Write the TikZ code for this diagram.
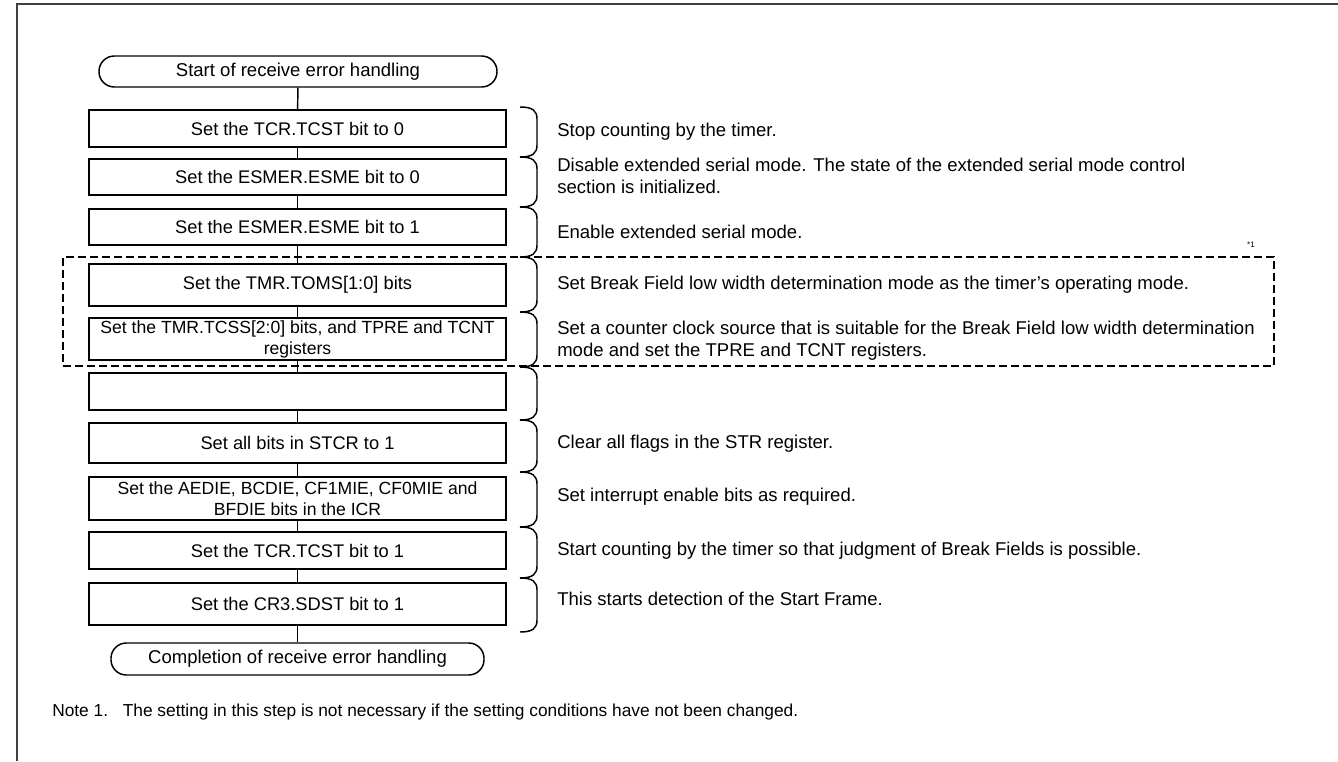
\documentclass[tikz,border=0pt]{standalone}
\usepackage{fontspec}
\setmainfont{Liberation Sans}
\begin{document}
\begin{tikzpicture}[x=0.75pt,y=-0.75pt,
  frame/.style={draw=black!75, line width=1.5pt},
  box/.style={draw, line width=1.1pt, minimum width=312.75pt, inner sep=0pt, align=center, font=\fontsize{13.7}{15.75}\selectfont},
  box2/.style={box, font=\fontsize{13.2}{15.75}\selectfont},
  term/.style={draw, line width=1.1pt, rounded corners=11.5pt, inner sep=0pt, font=\fontsize{13.9}{16}\selectfont},
  conn/.style={line width=1.1pt},
  brc/.style={line width=1.1pt},
  desc/.style={anchor=west, align=left, inner sep=0pt, font=\fontsize{13.9}{16.5}\selectfont},
  dashbox/.style={draw, line width=1.4pt, dash pattern=on 6pt off 3pt, inner sep=0pt}]
\useasboundingbox (0,0) rectangle (1338,761);
\draw[frame] (17,761) -- (17,4) -- (1338,4);

% flow nodes
\node[term, minimum width=298.5pt, minimum height=23.25pt] (s) at (298,71.5) {Start of receive error handling};
\node[box, minimum height=27.75pt] (b1) at (297.5,128.5) {Set the TCR.TCST bit to 0};
\node[box, minimum height=27pt] (b2) at (297.5,177) {Set the ESMER.ESME bit to 0};
\node[box, minimum height=27pt] (b3) at (297.5,227) {Set the ESMER.ESME bit to 1};
\node[box, minimum height=31.5pt] (b4) at (297.5,285) {Set the TMR.TOMS[1:0] bits};
\node[box2, minimum height=31.5pt] (b5) at (297.5,339) {Set the TMR.TCSS[2:0] bits, and TPRE and TCNT\\registers};
\node[box, minimum height=27.75pt] (b6) at (297.5,391.5) {};
\node[box, minimum height=30pt] (b7) at (297.5,443) {Set all bits in STCR to 1};
\node[box2, minimum height=32.25pt] (b8) at (297.5,498.5) {Set the AEDIE, BCDIE, CF1MIE, CF0MIE and\\BFDIE bits in the ICR};
\node[box, minimum height=27.75pt] (b9) at (297.5,550.5) {Set the TCR.TCST bit to 1};
\node[box, minimum height=31.5pt] (b10) at (297.5,604) {Set the CR3.SDST bit to 1};
\node[term, minimum width=279.75pt, minimum height=24pt] (e) at (297.5,659) {Completion of receive error handling};

% connectors
\foreach \a/\b in {s/b1,b1/b2,b2/b3,b3/b4,b4/b5,b5/b6,b6/b7,b7/b8,b8/b9,b9/b10,b10/e}
  \draw[conn] (\a) -- (\b);

% dashed region
\node[dashbox, minimum width=908.25pt, minimum height=81.75pt] (dz) at (668.5,311.5) {};
\node[font=\fontsize{6}{7}\selectfont, inner sep=0pt] (n1) at (1251,245) {*1};

% braces
\foreach \t/\u in {107/157,157/207,207/257,257/312,312/367,367/420,420/472,472/527,527/578,578/632}
  \draw[brc] (520,\t) .. controls (533,\t) and (537,\t+4) .. (537,\t+12)
    -- (537,\u-12) .. controls (537,\u-4) and (533,\u) .. (520,\u);

% descriptions
\node[desc] (d1) at (557,132) {Stop counting by the timer.};
\node[desc] (d2) at (557,176) {Disable extended serial mode. The state of the extended serial mode control\\section is initialized.};
\node[desc] (d3) at (557,232) {Enable extended serial mode.};
\node[desc] (d4) at (557,285) {Set Break Field low width determination mode as the timer’s operating mode.};
\node[desc] (d5) at (557,341) {Set a counter clock source that is suitable for the Break Field low width determination\\mode and set the TPRE and TCNT registers.};
\node[desc] (d7) at (557,444) {Clear all flags in the STR register.};
\node[desc] (d8) at (557,497) {Set interrupt enable bits as required.};
\node[desc] (d9) at (557,551) {Start counting by the timer so that judgment of Break Fields is possible.};
\node[desc] (d10) at (557,599) {This starts detection of the Start Frame.};

% note
\node[desc, font=\fontsize{13}{16}\selectfont] (note) at (52,712) {Note 1.\hspace{11pt}The setting in this step is not necessary if the setting conditions have not been changed.};
\end{tikzpicture}
\end{document}
